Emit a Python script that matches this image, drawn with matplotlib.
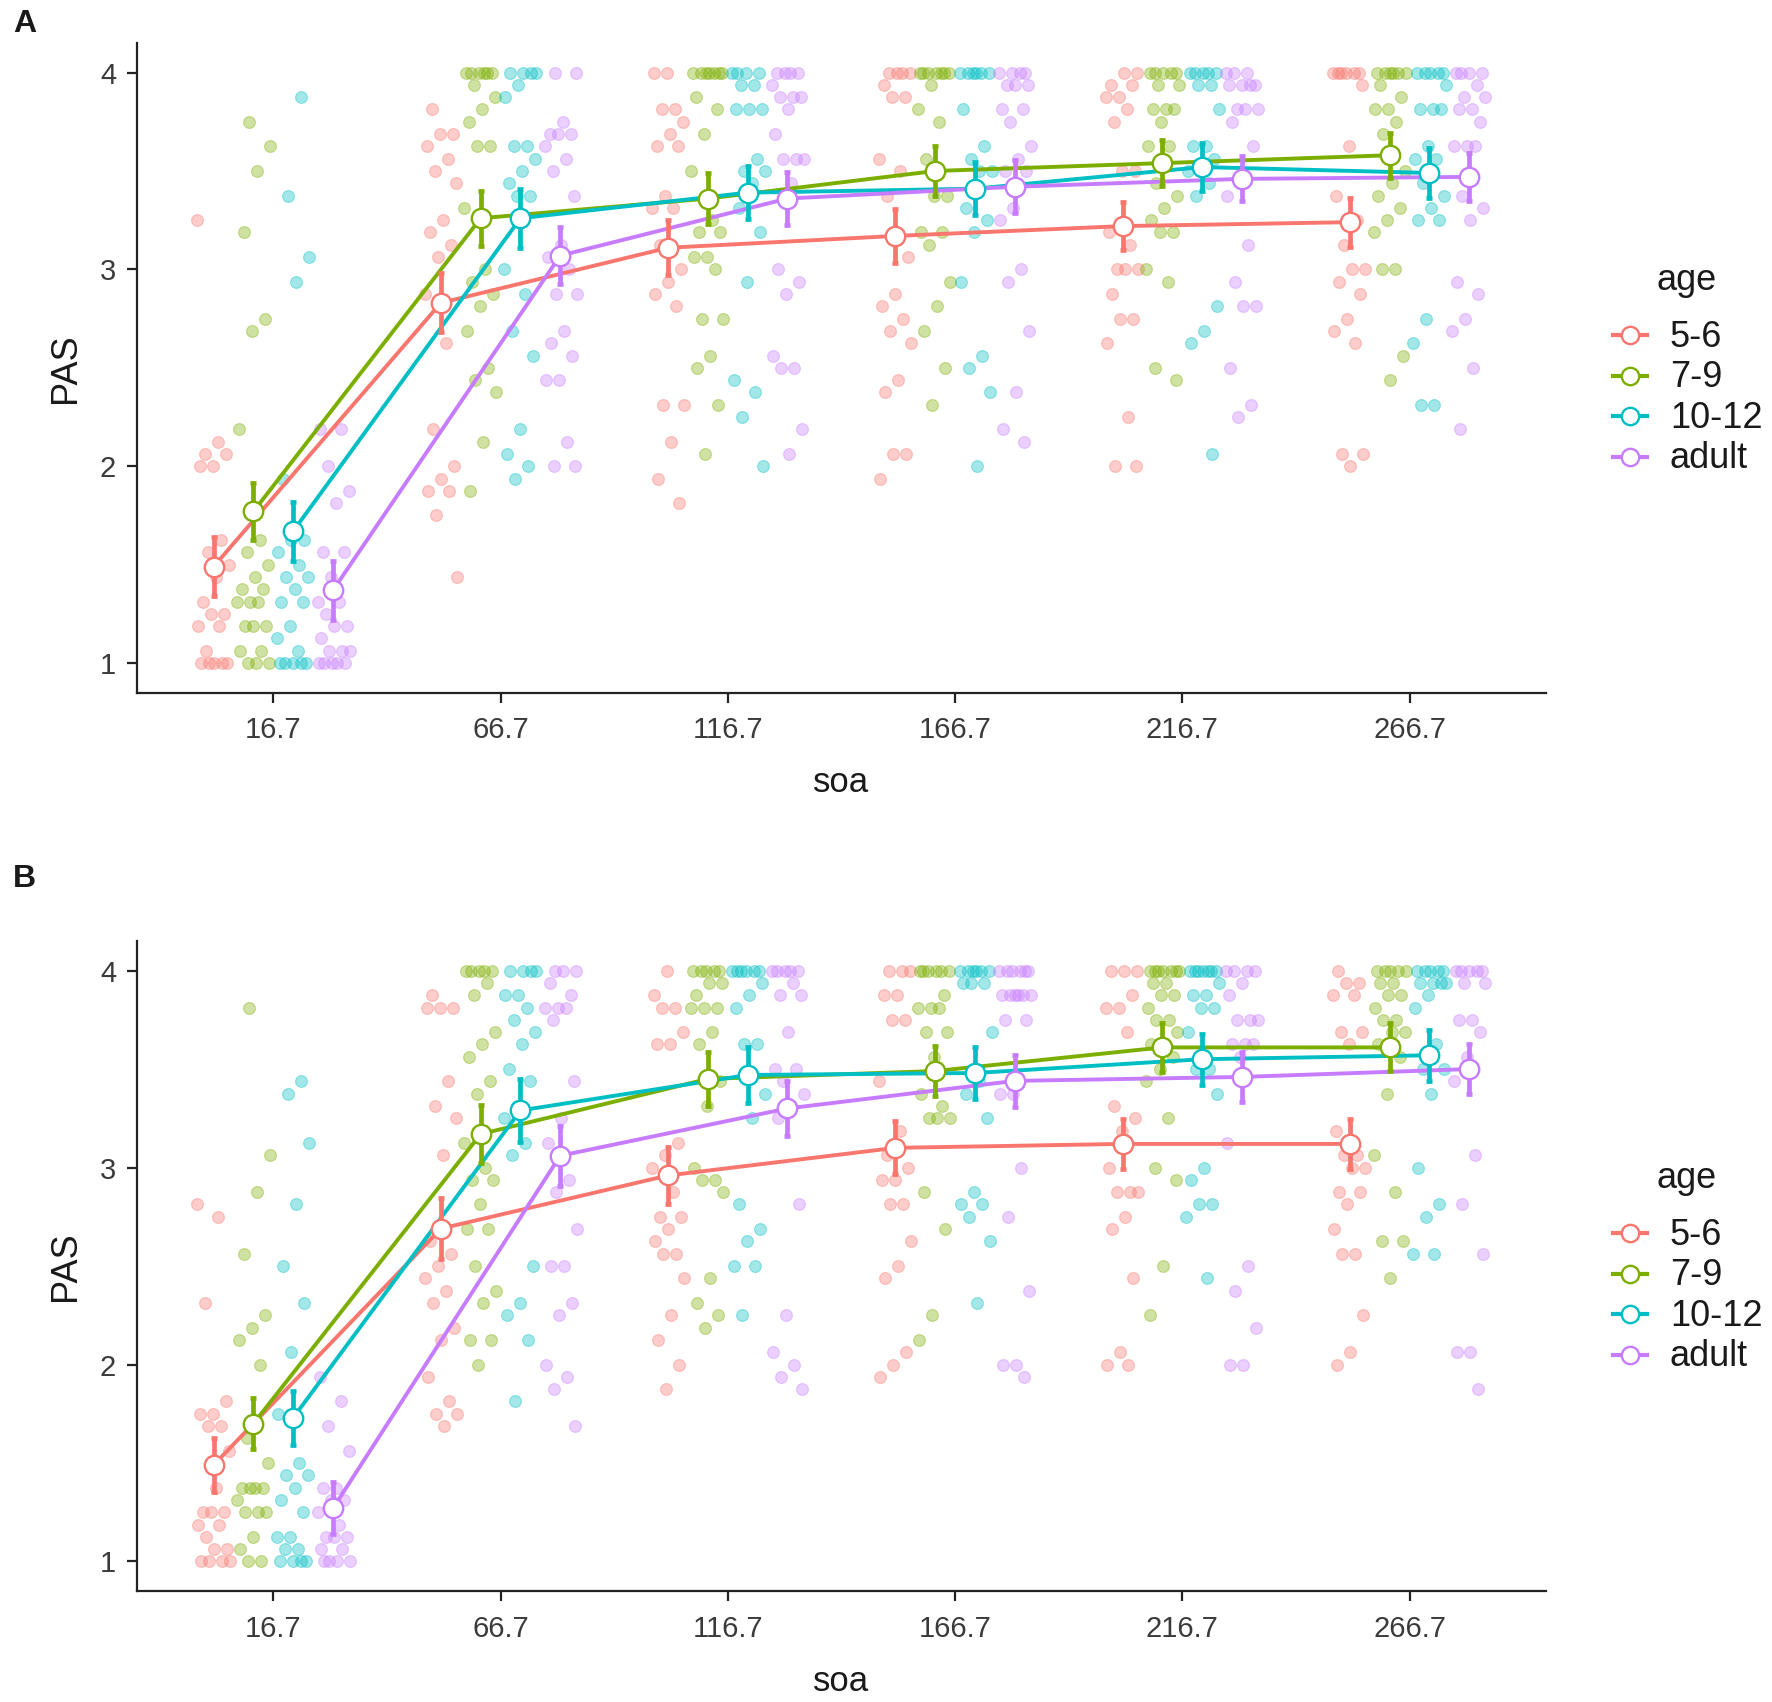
import matplotlib
matplotlib.use("Agg")
import matplotlib.pyplot as plt

plt.rcParams["font.family"] = ["Liberation Sans", "DejaVu Sans"]

# ---- categories ----
SOA_LABELS = ["16.7", "66.7", "116.7", "166.7", "216.7", "266.7"]
AGE_GROUPS = ["5-6", "7-9", "10-12", "adult"]
COLORS = ["#F8766D", "#7CAE00", "#00BFC4", "#C77CFF"]

# ---- panel A: group means and error half-widths (one value per soa) ----
MEAN_A = [
    [1.49, 2.83, 3.11, 3.17, 3.22, 3.24],
    [1.77, 3.26, 3.36, 3.50, 3.54, 3.58],
    [1.67, 3.26, 3.39, 3.41, 3.52, 3.49],
    [1.37, 3.07, 3.36, 3.42, 3.46, 3.47],
]
ERR_A = [
    [0.150, 0.150, 0.140, 0.135, 0.120, 0.125],
    [0.145, 0.140, 0.130, 0.125, 0.115, 0.115],
    [0.150, 0.150, 0.135, 0.135, 0.120, 0.125],
    [0.150, 0.145, 0.135, 0.135, 0.115, 0.120],
]

# ---- panel B ----
MEAN_B = [
    [1.49, 2.69, 2.96, 3.10, 3.12, 3.12],
    [1.70, 3.17, 3.45, 3.49, 3.61, 3.61],
    [1.73, 3.29, 3.47, 3.48, 3.55, 3.57],
    [1.27, 3.06, 3.30, 3.44, 3.46, 3.50],
]
ERR_B = [
    [0.135, 0.155, 0.145, 0.135, 0.128, 0.127],
    [0.128, 0.148, 0.136, 0.127, 0.124, 0.122],
    [0.137, 0.158, 0.143, 0.133, 0.130, 0.129],
    [0.133, 0.152, 0.140, 0.133, 0.128, 0.126],
]

# ---- individual PAS scores, panel A (one list per soa) ----
PTS_A_56 = [
    [3.25, 2.125, 2.0625, 2.0625, 2.0, 2.0, 1.625, 1.5625, 1.5, 1.4375, 1.3125, 1.25, 1.25,
     1.1875, 1.1875, 1.0625, 1.0, 1.0, 1.0, 1.0, 1.0],
    [3.8125, 3.6875, 3.6875, 3.625, 3.5625, 3.5, 3.4375, 3.25, 3.1875, 3.125, 3.0625, 2.875,
     2.625, 2.1875, 2.0, 1.9375, 1.875, 1.875, 1.75, 1.4375],
    [4.0, 4.0, 3.8125, 3.8125, 3.75, 3.6875, 3.625, 3.625, 3.375, 3.3125, 3.3125, 3.125, 3.0,
     2.9375, 2.875, 2.8125, 2.3125, 2.3125, 2.125, 1.9375, 1.8125],
    [4.0, 4.0, 4.0, 4.0, 3.9375, 3.875, 3.875, 3.5625, 3.5, 3.375, 3.0625, 2.875, 2.8125, 2.75,
     2.6875, 2.625, 2.4375, 2.375, 2.0625, 2.0625, 1.9375],
    [4.0, 4.0, 3.9375, 3.9375, 3.875, 3.875, 3.8125, 3.75, 3.5, 3.5, 3.1875, 3.125, 3.0, 3.0,
     3.0, 2.875, 2.75, 2.75, 2.625, 2.25, 2.0, 2.0],
    [4.0, 4.0, 4.0, 4.0, 4.0, 4.0, 3.9375, 3.625, 3.375, 3.25, 3.125, 3.0, 3.0, 2.9375, 2.875,
     2.75, 2.6875, 2.625, 2.0625, 2.0625, 2.0],
]
PTS_A_79 = [
    [3.75, 3.625, 3.5, 3.1875, 2.75, 2.6875, 2.1875, 1.625, 1.5625, 1.5, 1.4375, 1.375, 1.375,
     1.3125, 1.3125, 1.3125, 1.1875, 1.1875, 1.1875, 1.0625, 1.0625, 1.0, 1.0, 1.0],
    [4.0, 4.0, 4.0, 4.0, 4.0, 4.0, 3.9375, 3.875, 3.8125, 3.75, 3.625, 3.625, 3.3125, 3.0,
     2.9375, 2.875, 2.8125, 2.6875, 2.5, 2.4375, 2.375, 2.125, 1.875],
    [4.0, 4.0, 4.0, 4.0, 4.0, 4.0, 4.0, 3.875, 3.8125, 3.6875, 3.5, 3.25, 3.1875, 3.1875,
     3.0625, 3.0625, 3.0, 2.75, 2.75, 2.5625, 2.5, 2.3125, 2.0625],
    [4.0, 4.0, 4.0, 4.0, 4.0, 4.0, 4.0, 3.9375, 3.8125, 3.75, 3.5625, 3.375, 3.375, 3.1875,
     3.1875, 3.125, 2.9375, 2.8125, 2.6875, 2.5, 2.3125],
    [4.0, 4.0, 4.0, 4.0, 4.0, 3.9375, 3.9375, 3.8125, 3.8125, 3.8125, 3.75, 3.625, 3.625,
     3.4375, 3.375, 3.3125, 3.25, 3.1875, 3.1875, 3.0, 2.9375, 2.5, 2.4375],
    [4.0, 4.0, 4.0, 4.0, 4.0, 4.0, 3.9375, 3.875, 3.8125, 3.8125, 3.75, 3.6875, 3.5, 3.4375,
     3.375, 3.3125, 3.25, 3.1875, 3.0, 3.0, 2.5625, 2.4375],
]
PTS_A_1012 = [
    [3.875, 3.375, 3.0625, 2.9375, 1.9375, 1.625, 1.625, 1.5625, 1.5, 1.4375, 1.4375, 1.375,
     1.3125, 1.3125, 1.1875, 1.125, 1.0625, 1.0, 1.0, 1.0, 1.0, 1.0],
    [4.0, 4.0, 4.0, 4.0, 3.9375, 3.875, 3.625, 3.625, 3.5625, 3.5, 3.4375, 3.375, 3.375, 3.0,
     2.875, 2.6875, 2.5625, 2.1875, 2.0625, 2.0, 1.9375],
    [4.0, 4.0, 4.0, 4.0, 3.9375, 3.9375, 3.8125, 3.8125, 3.8125, 3.5625, 3.5, 3.5, 3.4375,
     3.3125, 3.1875, 2.9375, 2.4375, 2.375, 2.25, 2.0],
    [4.0, 4.0, 4.0, 4.0, 4.0, 4.0, 3.8125, 3.625, 3.5625, 3.5, 3.5, 3.3125, 3.25, 3.1875,
     2.9375, 2.5625, 2.5, 2.375, 2.0],
    [4.0, 4.0, 4.0, 4.0, 4.0, 3.9375, 3.9375, 3.8125, 3.625, 3.625, 3.5625, 3.5, 3.5, 3.4375,
     3.375, 2.8125, 2.6875, 2.625, 2.0625],
    [4.0, 4.0, 4.0, 4.0, 4.0, 3.9375, 3.8125, 3.8125, 3.8125, 3.625, 3.5625, 3.5625, 3.4375,
     3.375, 3.3125, 3.25, 3.25, 2.75, 2.625, 2.3125, 2.3125],
]
PTS_A_AD = [
    [2.1875, 2.1875, 2.0, 1.875, 1.8125, 1.5625, 1.5625, 1.4375, 1.3125, 1.3125, 1.25, 1.1875,
     1.1875, 1.125, 1.0625, 1.0625, 1.0625, 1.0, 1.0, 1.0, 1.0, 1.0],
    [4.0, 4.0, 3.75, 3.6875, 3.6875, 3.6875, 3.625, 3.5625, 3.5, 3.375, 3.125, 3.0625, 3.0,
     2.875, 2.875, 2.6875, 2.625, 2.5625, 2.4375, 2.4375, 2.125, 2.0, 2.0],
    [4.0, 4.0, 4.0, 4.0, 3.9375, 3.875, 3.875, 3.875, 3.8125, 3.6875, 3.5625, 3.5625, 3.5625,
     3.4375, 3.0, 2.9375, 2.875, 2.5625, 2.5, 2.5, 2.1875, 2.0625],
    [4.0, 4.0, 4.0, 4.0, 3.9375, 3.9375, 3.9375, 3.8125, 3.8125, 3.75, 3.625, 3.5625, 3.5, 3.5,
     3.3125, 3.25, 3.0, 2.9375, 2.6875, 2.375, 2.1875, 2.125],
    [4.0, 4.0, 4.0, 3.9375, 3.9375, 3.9375, 3.9375, 3.8125, 3.8125, 3.8125, 3.75, 3.625,
     3.4375, 3.375, 3.125, 2.9375, 2.8125, 2.8125, 2.5, 2.3125, 2.25],
    [4.0, 4.0, 4.0, 4.0, 3.9375, 3.875, 3.875, 3.8125, 3.8125, 3.75, 3.625, 3.625, 3.625,
     3.375, 3.3125, 3.25, 2.9375, 2.875, 2.75, 2.6875, 2.5, 2.1875],
]

# ---- individual PAS scores, panel B ----
PTS_B_56 = [
    [2.8125, 2.75, 2.3125, 1.8125, 1.75, 1.75, 1.6875, 1.6875, 1.5625, 1.375, 1.25, 1.25, 1.25,
     1.1875, 1.1875, 1.125, 1.0625, 1.0625, 1.0, 1.0, 1.0, 1.0],
    [3.875, 3.8125, 3.8125, 3.8125, 3.4375, 3.3125, 3.25, 3.0625, 2.625, 2.5625, 2.5, 2.4375,
     2.375, 2.3125, 2.1875, 2.125, 1.9375, 1.8125, 1.75, 1.75, 1.6875],
    [4.0, 3.875, 3.8125, 3.8125, 3.6875, 3.625, 3.625, 3.125, 3.0625, 3.0, 2.875, 2.75, 2.75,
     2.6875, 2.625, 2.5625, 2.5625, 2.4375, 2.25, 2.125, 2.0, 1.875],
    [4.0, 4.0, 4.0, 3.875, 3.875, 3.75, 3.75, 3.4375, 3.1875, 3.0625, 3.0, 2.9375, 2.9375,
     2.8125, 2.8125, 2.625, 2.5, 2.4375, 2.0625, 2.0, 1.9375],
    [4.0, 4.0, 4.0, 3.875, 3.8125, 3.8125, 3.6875, 3.3125, 3.25, 3.1875, 3.0, 2.875, 2.875,
     2.875, 2.75, 2.6875, 2.4375, 2.0625, 2.0, 2.0],
    [4.0, 3.9375, 3.9375, 3.875, 3.875, 3.6875, 3.6875, 3.625, 3.1875, 3.0625, 3.0625, 3.0,
     3.0, 2.875, 2.875, 2.8125, 2.6875, 2.5625, 2.5625, 2.25, 2.0625, 2.0],
]
PTS_B_79 = [
    [3.8125, 3.0625, 2.875, 2.5625, 2.25, 2.1875, 2.125, 2.0, 1.625, 1.5, 1.375, 1.375, 1.375,
     1.375, 1.3125, 1.25, 1.25, 1.25, 1.125, 1.0625, 1.0, 1.0],
    [4.0, 4.0, 4.0, 4.0, 4.0, 3.9375, 3.875, 3.6875, 3.625, 3.5625, 3.4375, 3.375, 3.125, 3.0,
     2.9375, 2.9375, 2.8125, 2.6875, 2.6875, 2.5, 2.375, 2.3125, 2.125, 2.125, 2.0],
    [4.0, 4.0, 4.0, 4.0, 4.0, 3.9375, 3.9375, 3.875, 3.8125, 3.8125, 3.8125, 3.6875, 3.625,
     3.4375, 3.3125, 3.0, 2.9375, 2.9375, 2.875, 2.4375, 2.3125, 2.25, 2.1875],
    [4.0, 4.0, 4.0, 4.0, 4.0, 4.0, 3.875, 3.8125, 3.8125, 3.8125, 3.6875, 3.6875, 3.5625,
     3.375, 3.3125, 3.25, 3.25, 3.25, 2.875, 2.6875, 2.25, 2.125],
    [4.0, 4.0, 4.0, 4.0, 4.0, 4.0, 4.0, 3.9375, 3.9375, 3.875, 3.875, 3.8125, 3.75, 3.75,
     3.6875, 3.625, 3.625, 3.5625, 3.5, 3.4375, 3.25, 3.0, 2.9375, 2.5, 2.25],
    [4.0, 4.0, 4.0, 4.0, 4.0, 3.9375, 3.9375, 3.875, 3.875, 3.8125, 3.75, 3.75, 3.6875,
     3.6875, 3.625, 3.5625, 3.375, 3.0625, 2.875, 2.625, 2.625, 2.4375],
]
PTS_B_1012 = [
    [3.4375, 3.375, 3.125, 2.8125, 2.5, 2.3125, 2.0625, 1.75, 1.5, 1.4375, 1.4375, 1.375,
     1.3125, 1.25, 1.125, 1.125, 1.0625, 1.0625, 1.0, 1.0, 1.0, 1.0],
    [4.0, 4.0, 4.0, 4.0, 3.875, 3.875, 3.8125, 3.75, 3.6875, 3.625, 3.5, 3.4375, 3.3125, 3.25,
     3.125, 3.0625, 2.5, 2.3125, 2.25, 2.125, 1.8125],
    [4.0, 4.0, 4.0, 4.0, 4.0, 4.0, 3.9375, 3.875, 3.8125, 3.625, 3.625, 3.375, 3.25, 2.8125,
     2.6875, 2.625, 2.5, 2.5, 2.25],
    [4.0, 4.0, 4.0, 4.0, 4.0, 4.0, 3.9375, 3.9375, 3.9375, 3.6875, 3.4375, 3.375, 3.25, 2.875,
     2.8125, 2.8125, 2.75, 2.625, 2.3125],
    [4.0, 4.0, 4.0, 4.0, 4.0, 4.0, 4.0, 3.9375, 3.875, 3.875, 3.8125, 3.8125, 3.6875, 3.5,
     3.5, 3.375, 3.0, 2.9375, 2.8125, 2.8125, 2.75, 2.4375],
    [4.0, 4.0, 4.0, 4.0, 4.0, 3.9375, 3.9375, 3.9375, 3.9375, 3.875, 3.8125, 3.625, 3.5, 3.5,
     3.375, 3.0, 2.8125, 2.75, 2.5625, 2.5625],
]
PTS_B_AD = [
    [1.9375, 1.8125, 1.6875, 1.5625, 1.375, 1.375, 1.3125, 1.3125, 1.25, 1.1875, 1.125, 1.125,
     1.125, 1.0625, 1.0625, 1.0, 1.0, 1.0, 1.0],
    [4.0, 4.0, 4.0, 3.9375, 3.875, 3.8125, 3.8125, 3.8125, 3.75, 3.4375, 3.25, 3.125, 2.9375,
     2.875, 2.6875, 2.5, 2.5, 2.3125, 2.25, 2.0, 1.9375, 1.875, 1.6875],
    [4.0, 4.0, 4.0, 4.0, 4.0, 3.9375, 3.875, 3.875, 3.6875, 3.5, 3.5, 3.4375, 3.375, 3.3125,
     3.25, 2.8125, 2.25, 2.0625, 2.0, 1.9375, 1.875],
    [4.0, 4.0, 4.0, 4.0, 4.0, 4.0, 3.875, 3.875, 3.875, 3.875, 3.875, 3.875, 3.75, 3.75, 3.375,
     3.375, 3.0, 2.75, 2.375, 2.0, 2.0, 1.9375],
    [4.0, 4.0, 4.0, 4.0, 3.9375, 3.875, 3.75, 3.75, 3.75, 3.625, 3.625, 3.625, 3.5625, 3.125,
     2.5, 2.375, 2.1875, 2.0, 2.0],
    [4.0, 4.0, 4.0, 4.0, 4.0, 3.9375, 3.9375, 3.75, 3.75, 3.6875, 3.5625, 3.4375, 3.0625,
     2.8125, 2.5625, 2.0625, 2.0625, 1.875],
]

PANELS = [
    ("A", [PTS_A_56, PTS_A_79, PTS_A_1012, PTS_A_AD], MEAN_A, ERR_A),
    ("B", [PTS_B_56, PTS_B_79, PTS_B_1012, PTS_B_AD], MEAN_B, ERR_B),
]

# ---- layout / style ----
DODGE = [-0.2625, -0.0875, 0.0875, 0.2625]
JIT = 0.075
TXT = "#3a3a3a"

fig = plt.figure(figsize=(17.72, 17.02), dpi=100)
axes = [
    fig.add_axes([0.0773, 0.5931, 0.7951, 0.3816]),
    fig.add_axes([0.0773, 0.0652, 0.7951, 0.3819]),
]
letter_y = [0.981, 0.479]

for ax, (letter, pts, means, errs), ly in zip(axes, PANELS, letter_y):
    # raw scores, spread sideways with a fixed jitter pattern
    for g, color in enumerate(COLORS):
        for k in range(len(SOA_LABELS)):
            vals = pts[g][k]
            xs = [k + DODGE[g] + JIT * ((((j * 0.618034) + 0.37 * g + 0.23 * k) % 1.0) * 2 - 1)
                  for j in range(len(vals))]
            ax.scatter(xs, vals, s=72, color=color, alpha=0.36, linewidths=0.9, zorder=2)

    # means, lines, error bars
    for g, color in enumerate(COLORS):
        xs = [k + DODGE[g] for k in range(len(SOA_LABELS))]
        ax.plot(xs, means[g], color=color, lw=2.8, zorder=3)
        ax.errorbar(xs, means[g], yerr=errs[g], fmt="none", ecolor=color,
                    elinewidth=3.4, capsize=2.2, capthick=3.4, zorder=4)
        ax.plot(xs, means[g], "o", ms=14, mfc="white", mec=color, mew=1.7, zorder=5)

    ax.set_xlim(-0.6, 5.6)
    ax.set_ylim(0.85, 4.15)
    ax.set_xticks(range(len(SOA_LABELS)))
    ax.set_xticklabels(SOA_LABELS)
    ax.set_yticks([1, 2, 3, 4])
    ax.set_yticklabels(["1", "2", "3", "4"])
    for side in ("top", "right"):
        ax.spines[side].set_visible(False)
    for side in ("left", "bottom"):
        ax.spines[side].set_linewidth(1.6)
        ax.spines[side].set_color("#222222")
    ax.tick_params(axis="both", length=7, width=1.6, color="#222222",
                   labelsize=21, labelcolor=TXT)
    ax.tick_params(axis="x", pad=10)
    ax.tick_params(axis="y", pad=8)
    ax.set_xlabel("soa", fontsize=25, color="#1a1a1a", labelpad=16)
    ax.set_ylabel("PAS", fontsize=26, color="#1a1a1a", labelpad=12)

    # legend drawn beside the panel
    h_px = 649.5
    ax.text(1.0788, (692.5 - 290) / h_px, "age", transform=ax.transAxes,
            fontsize=26, color="#1a1a1a", va="baseline", ha="left")
    for g, (name, color) in enumerate(zip(AGE_GROUPS, COLORS)):
        yc = (692.5 - (335 + 40.5 * g)) / h_px
        ax.plot([1.0475, 1.0717], [yc, yc], color=color, lw=3.0,
                transform=ax.transAxes, clip_on=False)
        ax.plot([1.0596], [yc], "o", ms=12.5, mfc="white", mec=color, mew=1.7,
                transform=ax.transAxes, clip_on=False)
        ax.text(1.088, yc - 11.5 / h_px, name, transform=ax.transAxes,
                fontsize=26, color="#1a1a1a", va="baseline", ha="left")

    fig.text(0.0073, ly, letter, fontsize=23, fontweight="bold", color="#1a1a1a",
             va="baseline", ha="left")

fig.savefig("out.png", dpi=100)
